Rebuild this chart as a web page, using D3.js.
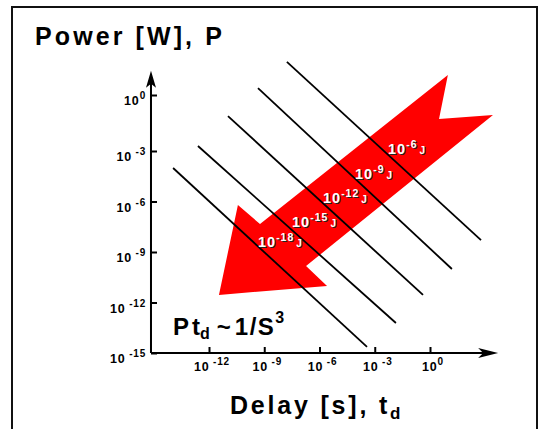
<!DOCTYPE html>
<html>
<head>
<meta charset="utf-8">
<script src="https://cdn.jsdelivr.net/npm/d3@7"></script>
<style>
  body { margin: 0; background: #fff; }
  svg { display: block; font-family: "Liberation Sans", Arial, sans-serif; font-weight: bold; }
</style>
</head>
<body>
<div id="chart"></div>
<script>
// chart size
var width = 539,
    height = 429

// tick values (exponents of ten)
var yTicks = [0, -3, -6, -9, -12, -15]
var xTicks = [-12, -9, -6, -3, 0]

// constant energy lines, log10 of E in joules, with their end points (log t, log P)
var energies = [-18, -15, -12, -9, -6]
var lineStartT = [-13.95, -12.6, -10.97, -9.34, -7.77]
var lineStartP = [-4.01, -2.73, -1.13, 0.37, 1.77]
var lineEndT = [-3.42, -1.85, -0.38, 1.19, 2.77]
var lineEndP = [-14.64, -13.22, -11.55, -10.01, -8.29]

// where each energy label sits on the arrow
var labelT = [-9.34, -7.49, -5.81, -4.07, -2.28]
var labelP = [-8.70, -7.51, -6.09, -4.66, -3.18]

// red block arrow outline (log t, log P)
var arrowT = [-11.46, -10.43, -9.23, 0.97, 0.49, 3.42, -6.73, -5.59]
var arrowP = [-11.55, -6.21, -7.34, 1.07, -1.29, -1.07, -9.83, -11.02]

// axis extents
var xAxisFrom = -15.15, xAxisTo = 3.7
var yAxisFrom = -15, yAxisTo = 1.3

var svg = d3.select("#chart")
  .append("svg")
    .attr("width", width)
    .attr("height", height)

// scales: the original y axis has the 10^0 tick a little higher than the others
var x = d3.scaleLinear().domain([-12, 0]).range([209, 430])
var y = d3.scaleLinear().domain([-15, -3, 0]).range([353, 151, 95])

// outer frame
svg.append("rect")
  .attr("x", 12).attr("y", 7)
  .attr("width", 525).attr("height", 450)
  .attr("fill", "none")
  .attr("stroke", "#111")
  .attr("stroke-width", 2)

// red arrow
var arrowPts = arrowT.map(function(t, i) { return [x(t), y(arrowP[i])] })
svg.append("path")
  .attr("d", d3.line()(arrowPts) + "Z")
  .attr("fill", "#ff0000")

// energy lines
svg.selectAll(".eline")
  .data(energies)
  .enter()
  .append("line")
    .attr("class", "eline")
    .attr("x1", function(d, i) { return x(lineStartT[i]) })
    .attr("y1", function(d, i) { return y(lineStartP[i]) })
    .attr("x2", function(d, i) { return x(lineEndT[i]) })
    .attr("y2", function(d, i) { return y(lineEndP[i]) })
    .attr("stroke", "black")
    .attr("stroke-width", 1.8)

// energy labels, white text with a dark shadow
function energyLabel(sel, fill, off) {
  sel.selectAll(null)
    .data(energies)
    .enter()
    .append("text")
      .attr("x", function(d, i) { return x(labelT[i]) + off })
      .attr("y", function(d, i) { return y(labelP[i]) + off })
      .attr("fill", fill)
      .style("letter-spacing", "1px")
      .each(function(d) {
        var t = d3.select(this)
        t.append("tspan").text("10").style("font-size", "14.5px")
        t.append("tspan").text(d).attr("dy", -6).style("font-size", "10.5px")
        t.append("tspan").text("J").attr("dy", 6).attr("dx", 2).style("font-size", "10px")
      })
}
var lab = svg.append("g")
energyLabel(lab, "#222", 1)
energyLabel(lab, "#fff", 0)

// axes
var yAxis = svg.append("g")
  .attr("transform", "translate(" + x(xAxisFrom) + ",0)")
  .call(d3.axisLeft(y).tickValues(yTicks).tickSize(-6).tickFormat(""))
yAxis.select(".domain").remove()
yAxis.selectAll(".tick line").attr("stroke-width", 2)

var xAxis = svg.append("g")
  .attr("transform", "translate(0," + y(yAxisFrom) + ")")
  .call(d3.axisBottom(x).tickValues(xTicks).tickSize(-6).tickFormat(""))
xAxis.select(".domain").remove()
xAxis.selectAll(".tick line").attr("stroke-width", 2)

// axis lines with arrow heads
var ox = x(xAxisFrom), oy = y(yAxisFrom)
var yTop = y(yAxisTo), xEnd = x(xAxisTo)
svg.append("path")
  .attr("d", "M" + ox + "," + oy + "V" + (yTop + 10) + "M" + ox + "," + oy + "H" + (xEnd - 10))
  .attr("fill", "none")
  .attr("stroke", "black")
  .attr("stroke-width", 2)
svg.append("path")
  .attr("d", "M" + ox + "," + yTop + "L" + (ox + 5) + "," + (yTop + 17) + "L" + ox + "," + (yTop + 13) + "L" + (ox - 5) + "," + (yTop + 17) + "Z")
  .attr("fill", "black")
svg.append("path")
  .attr("d", "M" + xEnd + "," + oy + "L" + (xEnd - 20) + "," + (oy - 5) + "L" + (xEnd - 15) + "," + oy + "L" + (xEnd - 20) + "," + (oy + 5) + "Z")
  .attr("fill", "black")

// tick labels
function tickLabel(t, d) {
  t.append("tspan").text("10").style("font-size", "12.5px")
  t.append("tspan").text(d === 0 ? "0" : " " + d).attr("dy", -6).style("font-size", "10px")
}

svg.selectAll(".ylab")
  .data(yTicks)
  .enter()
  .append("text")
    .attr("class", "ylab")
    .attr("x", 146)
    .attr("y", function(d) { return y(d) + 10 })
    .attr("text-anchor", "end")
    .style("letter-spacing", "0.8px")
    .each(function(d) { tickLabel(d3.select(this), d) })

svg.selectAll(".xlab")
  .data(xTicks)
  .enter()
  .append("text")
    .attr("class", "xlab")
    .attr("x", function(d) { return x(d) + 3 })
    .attr("y", 371)
    .attr("text-anchor", "middle")
    .style("letter-spacing", "0.8px")
    .each(function(d) { tickLabel(d3.select(this), d) })

// titles
svg.append("text")
  .attr("x", 35).attr("y", 45)
  .style("font-size", "25px")
  .style("letter-spacing", "3.1px")
  .text("Power [W], P")

var xt = svg.append("text")
  .attr("x", 230).attr("y", 414)
  .style("font-size", "25px")
  .style("letter-spacing", "2.8px")
xt.append("tspan").text("Delay [s], t")
xt.append("tspan").text("d").attr("dy", 5).style("font-size", "17px")

// scaling law
var f = svg.append("text")
  .attr("x", 173).attr("y", 335)
  .style("font-size", "24px")
f.append("tspan").text("P")
f.append("tspan").text("t").attr("dx", 3)
f.append("tspan").text("d").attr("dy", 4).style("font-size", "16px")
f.append("tspan").text("~").attr("dy", -4).attr("dx", 7)
f.append("tspan").text("1/S").attr("dx", 4).style("letter-spacing", "1.5px")
f.append("tspan").text("3").attr("dy", -12).style("font-size", "16px")
</script>
</body>
</html>
